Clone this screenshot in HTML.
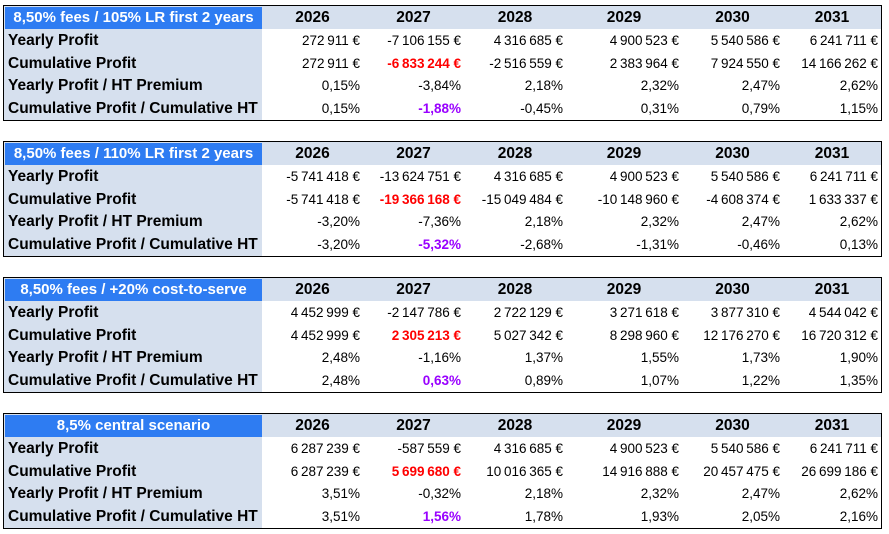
<!DOCTYPE html>
<html><head><meta charset="utf-8"><style>
body{margin:0;width:889px;height:534px;background:#fff;position:relative;overflow:hidden;font-family:"Liberation Sans",sans-serif;}
.tbl{position:absolute;left:3px;width:877px;height:114px;border:1px solid #000;background:#d6e0ee;box-sizing:content-box;overflow:hidden;}
.cell{position:absolute;white-space:nowrap;overflow:hidden;line-height:23px;height:23px;}
.hdr{background:#2e7cf2;color:#fff;font-weight:bold;font-size:15px;text-align:center;left:1px;top:1px;width:257px;height:22px;line-height:22px;}
.year{font-weight:bold;font-size:15.5px;text-align:center;top:0;}
.lab{font-weight:bold;font-size:15.5px;left:4px;width:254px;}
.val{font-size:13.5px;text-align:right;background:#fff;}
.red{color:#ff0000;font-weight:bold;}
.pur{color:#9900ff;font-weight:bold;}
</style></head><body>
<script>
const titles=["8,50% fees / 105% LR first 2 years","8,50% fees / 110% LR first 2 years","8,50% fees / +20% cost-to-serve","8,5% central scenario"];
const years=["2026","2027","2028","2029","2030","2031"];
const rowLabels=["Yearly Profit","Cumulative Profit","Yearly Profit / HT Premium","Cumulative Profit / Cumulative HT Premium"];
const yearly=[
["272 911 €","-7 106 155 €","4 316 685 €","4 900 523 €","5 540 586 €","6 241 711 €"],
["-5 741 418 €","-13 624 751 €","4 316 685 €","4 900 523 €","5 540 586 €","6 241 711 €"],
["4 452 999 €","-2 147 786 €","2 722 129 €","3 271 618 €","3 877 310 €","4 544 042 €"],
["6 287 239 €","-587 559 €","4 316 685 €","4 900 523 €","5 540 586 €","6 241 711 €"]];
const cumulative=[
["272 911 €","-6 833 244 €","-2 516 559 €","2 383 964 €","7 924 550 €","14 166 262 €"],
["-5 741 418 €","-19 366 168 €","-15 049 484 €","-10 148 960 €","-4 608 374 €","1 633 337 €"],
["4 452 999 €","2 305 213 €","5 027 342 €","8 298 960 €","12 176 270 €","16 720 312 €"],
["6 287 239 €","5 699 680 €","10 016 365 €","14 916 888 €","20 457 475 €","26 699 186 €"]];
const yearlyPct=[
["0,15%","-3,84%","2,18%","2,32%","2,47%","2,62%"],
["-3,20%","-7,36%","2,18%","2,32%","2,47%","2,62%"],
["2,48%","-1,16%","1,37%","1,55%","1,73%","1,90%"],
["3,51%","-0,32%","2,18%","2,32%","2,47%","2,62%"]];
const cumPct=[
["0,15%","-1,88%","-0,45%","0,31%","0,79%","1,15%"],
["-3,20%","-5,32%","-2,68%","-1,31%","-0,46%","0,13%"],
["2,48%","0,63%","0,89%","1,07%","1,22%","1,35%"],
["3,51%","1,56%","1,78%","1,93%","2,05%","2,16%"]];
const colL=[258,359,460,562,678,779,877];
const tops=[5,141,277,413];
titles.forEach((t,ti)=>{
  const tb=document.createElement('div');tb.className='tbl';tb.style.top=tops[ti]+'px';
  
  
  document.body.appendChild(tb);
  const h=document.createElement('div');h.className='cell hdr';h.textContent=t;
  
  
  tb.appendChild(h);
  years.forEach((y,ci)=>{
    const c=document.createElement('div');c.className='cell year';c.textContent=y;
    c.style.left=colL[ci]+'px';c.style.width=(colL[ci+1]-colL[ci])+'px';
    
    
    tb.appendChild(c);
  });
  const rows=[yearly[ti],cumulative[ti],yearlyPct[ti],cumPct[ti]];
  rows.forEach((r,ri)=>{
    const top=23+ri*22.7;
    const l=document.createElement('div');l.className='cell lab';l.textContent=rowLabels[ri];
    l.style.top=top+'px';
    
    
    tb.appendChild(l);
    r.forEach((v,ci)=>{
      const c=document.createElement('div');c.className='cell val';
      if(ci==1&&ri==1)c.className+=' red';
      if(ci==1&&ri==3)c.className+=' pur';
      c.textContent=v.replace(/ (?=\d)/g,'\u202F');
      c.style.top=top+'px';c.style.height='24px';
      c.style.left=colL[ci]+'px';c.style.width=(colL[ci+1]-colL[ci]-3)+'px';c.style.paddingRight='3px';
      
      
      tb.appendChild(c);
    });
  });
});
</script>
</body></html>
